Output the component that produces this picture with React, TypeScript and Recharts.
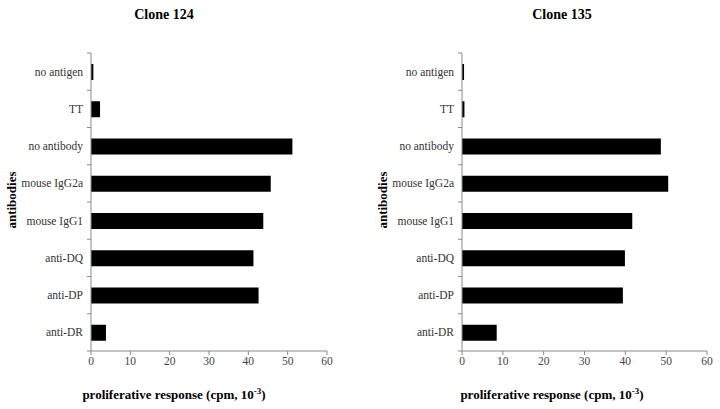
import React from 'react';
import { BarChart, Bar, XAxis, YAxis } from 'recharts';

const categories = ['no antigen', 'TT', 'no antibody', 'mouse IgG2a', 'mouse IgG1', 'anti-DQ', 'anti-DP', 'anti-DR'];
const clone124 = [0.6, 2.3, 51.2, 45.7, 43.8, 41.3, 42.6, 3.8];
const clone135 = [0.5, 0.6, 48.7, 50.5, 41.7, 39.9, 39.4, 8.5];
const xTicks = [0, 10, 20, 30, 40, 50, 60];
const titles = ['Clone 124', 'Clone 135'];

const FONT = '"Liberation Serif", "Times New Roman", serif';
const AXIS = '#8a8a8a';

const makeData = (vals: number[]) => categories.map((c, i) => ({ name: c, value: vals[i] }));

const TOP = 53;
const PLOT_BOTTOM = 351;
const BAND = (PLOT_BOTTOM - TOP) / categories.length;

const CatTick = (props: any) => {
  const { x, y, payload, index } = props;
  const axisX = x + 8;
  return (
    <g>
      <text x={x} y={y} dy={4} textAnchor="end" fontFamily={FONT} fontSize={11.5} fill="#333">
        {payload.value}
      </text>
      <line x1={axisX - 4} x2={axisX} y1={y - BAND / 2} y2={y - BAND / 2} stroke={AXIS} />
      {index === categories.length - 1 && (
        <line x1={axisX - 4} x2={axisX} y1={y + BAND / 2} y2={y + BAND / 2} stroke={AXIS} />
      )}
    </g>
  );
};

const Panel = ({ vals, left, yWidth, right, title, titleX, xLabelX, yLabelX }: any) => (
  <div style={{ position: 'absolute', left, top: 0, width: 360, height: 409 }}>
    <BarChart
      width={360}
      height={409}
      layout="vertical"
      data={makeData(vals)}
      margin={{ top: TOP, right, bottom: 409 - PLOT_BOTTOM - 24, left: 0 }}
    >
      <XAxis
        type="number"
        domain={[0, 60]}
        ticks={xTicks}
        height={24}
        stroke={AXIS}
        tickSize={4}
        tick={{ fontFamily: FONT, fontSize: 11.5, fill: '#444' }}
      />
      <YAxis
        type="category"
        dataKey="name"
        width={yWidth}
        stroke={AXIS}
        tickLine={false}
        tickSize={4}
        tickMargin={4}
        tick={<CatTick />}
        interval={0}
      />
      <Bar dataKey="value" fill="#000" barSize={16} isAnimationActive={false} />
    </BarChart>
    <div
      style={{
        position: 'absolute', left: titleX - 100, width: 200, top: 7, textAlign: 'center',
        fontFamily: FONT, fontWeight: 'bold', fontSize: 14, color: '#000',
      }}
    >
      {title}
    </div>
    <div
      style={{
        position: 'absolute', left: xLabelX - 150, width: 300, top: 386, textAlign: 'center',
        fontFamily: FONT, fontWeight: 'bold', fontSize: 13, color: '#000', whiteSpace: 'nowrap',
      }}
    >
      proliferative response (cpm, 10<sup style={{ fontSize: 9 }}>-3</sup>)
    </div>
    <div
      style={{
        position: 'absolute', left: yLabelX - 50, width: 100, top: 192, textAlign: 'center',
        fontFamily: FONT, fontWeight: 'bold', fontSize: 13, color: '#000',
        transform: 'rotate(-90deg)',
      }}
    >
      antibodies
    </div>
  </div>
);

export default function App() {
  return (
    <div style={{ position: 'absolute', left: 0, top: 0, width: 720, height: 409, background: '#fff' }}>
      <Panel vals={clone124} left={0} yWidth={91} right={33} title={titles[0]} titleX={164} xLabelX={174} yLabelX={12} />
      <Panel vals={clone135} left={360} yWidth={102} right={13} title={titles[1]} titleX={202} xLabelX={192} yLabelX={23} />
    </div>
  );
}
